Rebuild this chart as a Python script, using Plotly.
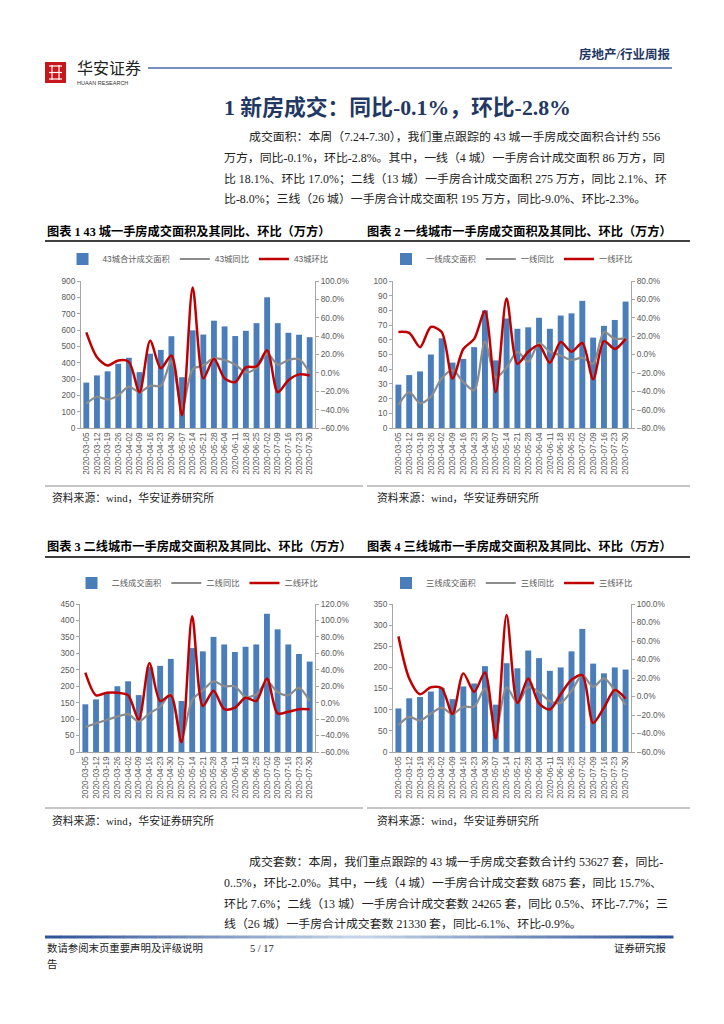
import plotly.graph_objects as go

W, H = 724, 1024

dates = ["2020-03-05", "2020-03-12", "2020-03-19", "2020-03-26", "2020-04-02", "2020-04-09",
         "2020-04-16", "2020-04-23", "2020-04-30", "2020-05-07", "2020-05-14", "2020-05-21",
         "2020-05-28", "2020-06-04", "2020-06-11", "2020-06-18", "2020-06-25", "2020-07-02",
         "2020-07-09", "2020-07-16", "2020-07-23", "2020-07-30"]

# 43城
area43 = [278, 322, 347, 393, 430, 342, 455, 478, 562, 311, 598, 572, 657, 622, 563, 595, 642, 800, 642, 583, 571, 556]
yoy43 = [-33.5, -26, -29, -24.5, -15, -21, -14, -14, 13, -39, 4, 8, 16, 14, 9, 0.5, 5.5, 21, 9, 14, 15, -0.1]
mom43 = [44, 17, 8, 13.5, 12, -21, 35, 5, 19, -46, 93, -6, 15.5, -6, -10, 6, 7, 24.5, -21, -8, -1.6, -2.8]

# 一线
area1 = [29.5, 36, 38.5, 50, 61, 44.5, 47, 55, 80, 46, 74.5, 67.5, 68.5, 75, 67.5, 76.5, 78, 86.5, 61.5, 69.5, 73.5, 86]
yoy1 = [-55, -41, -53, -46, -26, -17, -30, -39, 14, -25, -14, 3, -8, 12.5, 3, -1, -6, -3.5, -10, 24.5, 17, 18.1]
mom1 = [24.5, 23.5, 8, 30, 24.5, -26, 6, 17, 47, -41, 61, -10, 3, 10, -9, 13.5, 3, 12.5, -27, 14.5, 6, 17.0]

# 二线
area2 = [145, 160, 180, 200, 215, 173, 258, 262, 283, 155, 316, 306, 350, 327, 304, 320, 327, 420, 373, 327, 298, 275]
yoy2 = [-29.5, -25, -21, -17, -14, -23, -13, -5, 11, -44, 3, 15, 26, 20, 20, 7, 10, 25.5, 13, 9, 18, 2.1]
mom2 = [36.5, 9, 12, 12, 9, -20.5, 48, 2, 9, -48, 105, -4, 14.5, -8, -6, 6, 2, 29.5, -13, -11, -8, -8.0]

# 三线
area3 = [103, 127, 130, 143, 152, 125, 155, 162, 203, 112, 210, 198, 240, 222, 192, 200, 238, 291, 209, 186, 200, 195]
yoy3 = [-31, -22, -26, -18.5, -12, -19, -11, -11, 8.7, -36, 10, -7, 10, 5, -5, -7, 6, 23, 10.5, 19.5, 7, -9.0]
mom3 = [65, 19.5, 2.5, 10, 9, -19, 25, 5, 26, -45.5, 88, -7, 19.5, -7.5, -14, 2.5, 18, 23, -28.6, -12, 7, -2.3]

BLUE = "#4a7ebb"
GRAY = "#8c8c8c"
RED = "#c00000"
TICK = "#595959"
AXIS = "#a6a6a6"
NAVY = "#1f3864"
CJK = "Liberation Serif, Noto Sans CJK SC"
SANS = "Liberation Sans, Noto Sans CJK SC"

charts = [
    dict(bars=area43, yoy=yoy43, mom=mom43,
         names=("43城合计成交面积", "43城同比", "43城环比"),
         left=(0, 900, 100), right=(-60, 100, 20), px=(81, 315), py=(281, 428), ly=259),
    dict(bars=area1, yoy=yoy1, mom=mom1,
         names=("一线成交面积", "一线同比", "一线环比"),
         left=(0, 100, 10), right=(-80, 80, 20), px=(393, 631), py=(281, 428), ly=259),
    dict(bars=area2, yoy=yoy2, mom=mom2,
         names=("二线成交面积", "二线同比", "二线环比"),
         left=(0, 450, 50), right=(-60, 120, 20), px=(80, 315), py=(604, 752), ly=583),
    dict(bars=area3, yoy=yoy3, mom=mom3,
         names=("三线成交面积", "三线同比", "三线环比"),
         left=(0, 350, 50), right=(-60, 100, 20), px=(393, 631), py=(604, 752), ly=583),
]

fig = go.Figure()
layout = dict(width=W, height=H, margin=dict(l=0, r=0, t=0, b=0), autosize=False,
              paper_bgcolor="white", plot_bgcolor="white", bargap=0.45,
              font=dict(family=SANS, size=8, color=TICK), showlegend=True)

for i, c in enumerate(charts):
    xi = i + 1
    yl = 2 * i + 1
    yr = 2 * i + 2
    xname = "x" if xi == 1 else f"x{xi}"
    ylname = "y" if yl == 1 else f"y{yl}"
    yrname = f"y{yr}"
    leg = "legend" if i == 0 else f"legend{i + 1}"
    fig.add_trace(go.Bar(x=dates, y=c["bars"], name=c["names"][0], marker=dict(color=BLUE, line=dict(width=0)),
                         xaxis=xname, yaxis=ylname, legend=leg))
    fig.add_trace(go.Scatter(x=dates, y=c["yoy"], name=c["names"][1], mode="lines",
                             line=dict(color=GRAY, width=2.2, shape="spline", smoothing=0.8),
                             xaxis=xname, yaxis=yrname, legend=leg))
    fig.add_trace(go.Scatter(x=dates, y=c["mom"], name=c["names"][2], mode="lines",
                             line=dict(color=RED, width=2.5, shape="spline", smoothing=0.8),
                             xaxis=xname, yaxis=yrname, legend=leg))
    xd = [c["px"][0] / W, c["px"][1] / W]
    yd = [1 - c["py"][1] / H, 1 - c["py"][0] / H]
    xkey = "xaxis" if xi == 1 else f"xaxis{xi}"
    ylkey = "yaxis" if yl == 1 else f"yaxis{yl}"
    yrkey = f"yaxis{yr}"
    layout[xkey] = dict(domain=xd, anchor=ylname, type="category", tickangle=-90,
                        showline=True, linecolor=AXIS, linewidth=1, ticks="", showgrid=False,
                        tickfont=dict(size=8.3, color=TICK), automargin=False)
    lo, hi, dt = c["left"]
    layout[ylkey] = dict(domain=yd, anchor=xname, range=[lo, hi], dtick=dt, showline=True,
                         linecolor=AXIS, linewidth=1, ticks="outside", ticklen=3, tickcolor=AXIS,
                         showgrid=False, zeroline=False, tickfont=dict(size=8.3, color=TICK), automargin=False)
    lo, hi, dt = c["right"]
    layout[yrkey] = dict(domain=yd, anchor=xname, overlaying=ylname, side="right", range=[lo, hi], dtick=dt,
                         tickformat=".1f", ticksuffix="%", showline=True, linecolor=AXIS, linewidth=1,
                         ticks="outside", ticklen=3, tickcolor=AXIS, showgrid=False, zeroline=False,
                         tickfont=dict(size=8.3, color=TICK), automargin=False)
    layout[leg] = dict(orientation="h", x=(xd[0] + xd[1]) / 2, xanchor="center",
                       y=1 - c["ly"] / H, yanchor="middle", font=dict(size=8.3, color=TICK),
                       bgcolor="rgba(0,0,0,0)", itemwidth=30, tracegroupgap=0)

fig.update_layout(**layout)

# ---------- page text ----------
def txt(x, y, s, size=11, color="black", anchor="left", family=CJK):
    fig.add_annotation(x=x / W, y=1 - y / H, xref="paper", yref="paper", text=s, showarrow=False,
                       xanchor=anchor, yanchor="middle", font=dict(size=size, color=color, family=family))

def hline(x0, x1, y, color, width):
    fig.add_shape(type="line", xref="paper", yref="paper", x0=x0 / W, x1=x1 / W,
                  y0=1 - y / H, y1=1 - y / H, line=dict(color=color, width=width))

# header
fig.add_shape(type="rect", xref="paper", yref="paper", x0=45 / W, x1=66 / W, y0=1 - 83 / H, y1=1 - 62 / H,
              fillcolor="#c8161d", line=dict(width=0))
for yy in (66, 72.5, 79):
    hline(49, 62, yy, "white", 1.2)
for xx in (52, 59):
    fig.add_shape(type="line", xref="paper", yref="paper", x0=xx / W, x1=xx / W, y0=1 - 80 / H, y1=1 - 65 / H,
                  line=dict(color="white", width=1.2))
txt(75, 67, "华安证券", 16, "#222222", family="Noto Sans CJK SC")
txt(75, 83, "HUAAN RESEARCH", 5.5, "#333333", family="Liberation Sans")
hline(148, 672, 68, "#4a6aa5", 1.3)
txt(672, 54, "<b>房地产/行业周报</b>", 12.5, NAVY, anchor="right")

# title
txt(222, 107, "<b>1 新房成交：同比-0.1%，环比-2.8%</b>", 21.8, NAVY)

para1 = [
    (247, "成交面积：本周（7.24-7.30），我们重点跟踪的 43 城一手房成交面积合计约 556"),
    (222, "万方，同比-0.1%，环比-2.8%。其中，一线（4 城）一手房合计成交面积 86 万方，同"),
    (222, "比 18.1%、环比 17.0%；二线（13 城）一手房合计成交面积 275 万方，同比 2.1%、环"),
    (222, "比-8.0%；三线（26 城）一手房合计成交面积 195 万方，同比-9.0%、环比-2.3%。"),
]
for k, (x0, s) in enumerate(para1):
    txt(x0, 137 + k * 20.8, s, 11.9, "#222222")

# chart titles
txt(45, 231, "<b>图表 1 43 城一手房成交面积及其同比、环比（万方）</b>", 12.2, "black")
txt(365, 231, "<b>图表 2 一线城市一手房成交面积及其同比、环比（万方）</b>", 12.2, "black")
hline(45, 690, 241, "black", 1.3)
hline(45, 363, 486, "#8c8c8c", 1)
hline(367, 690, 486, "#8c8c8c", 1)
txt(50, 497, "资料来源：wind，华安证券研究所", 10.8, "#222222")
txt(375, 497, "资料来源：wind，华安证券研究所", 10.8, "#222222")

txt(45, 546, "<b>图表 3 二线城市一手房成交面积及其同比、环比（万方）</b>", 12.2, "black")
txt(365, 546, "<b>图表 4 三线城市一手房成交面积及其同比、环比（万方）</b>", 12.2, "black")
hline(45, 690, 557, "black", 1.3)
hline(45, 363, 808, "#8c8c8c", 1)
hline(367, 690, 808, "#8c8c8c", 1)
txt(50, 820, "资料来源：wind，华安证券研究所", 10.8, "#222222")
txt(375, 820, "资料来源：wind，华安证券研究所", 10.8, "#222222")

para2 = [
    (247, "成交套数：本周，我们重点跟踪的 43 城一手房成交套数合计约 53627 套，同比-"),
    (222, "0..5%，环比-2.0%。其中，一线（4 城）一手房合计成交套数 6875 套，同比 15.7%、"),
    (222, "环比 7.6%；二线（13 城）一手房合计成交套数 24265 套，同比 0.5%、环比-7.7%；三"),
    (222, "线（26 城）一手房合计成交套数 21330 套，同比-6.1%、环比-0.9%。"),
]
for k, (x0, s) in enumerate(para2):
    txt(x0, 862 + k * 20.8, s, 11.9, "#222222")

# footer gradient line
segs = 40
x0f, x1f = 45, 673
for s in range(segs):
    t = s / (segs - 1)
    m = 1 - abs(t - 0.5) * 2
    r = int(47 + (200 - 47) * m)
    g = int(85 + (215 - 85) * m)
    b = int(151 + (235 - 151) * m)
    hline(x0f + (x1f - x0f) * s / segs, x0f + (x1f - x0f) * (s + 1) / segs + 0.5, 937,
          f"rgb({r},{g},{b})", 3)
txt(45, 948, "数请参阅末页重要声明及评级说明", 10.4, "#222222")
txt(45, 964, "告", 10.4, "#222222")
txt(262, 948, "5 / 17", 10.4, "#222222", anchor="center")
txt(668, 948, "证券研究报", 10.4, "#222222", anchor="right")

fig.write_html("out.html", config={"displayModeBar": False},
               post_script="document.body.style.margin='0';document.body.style.padding='0';")
